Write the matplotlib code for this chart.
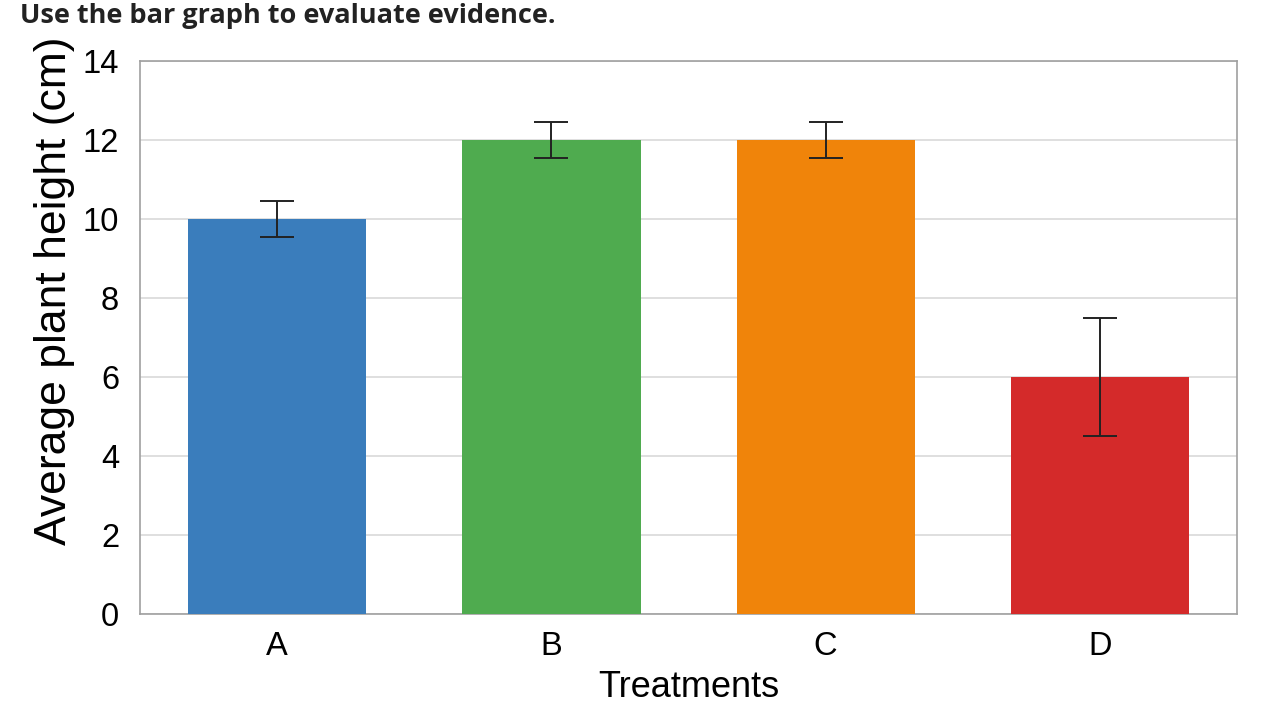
import matplotlib.pyplot as plt

treatments = ["A", "B", "C", "D"]
heights = [10, 12, 12, 6]
errors = [0.45, 0.45, 0.45, 1.5]
bar_colors = ["#3a7dbc", "#4fab4f", "#f0840a", "#d42a2a"]

fig = plt.figure(figsize=(12.72, 7.2), dpi=100)
ax = fig.add_axes([0.1101, 0.1472, 0.8624, 0.7681])

ax.bar(range(len(treatments)), heights, width=0.65, color=bar_colors,
       yerr=errors, capsize=12, zorder=3,
       error_kw={"ecolor": "#222222", "elinewidth": 1.4, "capthick": 1.4})

ax.set_xlim(-0.5, 3.5)
ax.set_ylim(0, 14)
ax.set_yticks(range(0, 15, 2))
ax.set_xticks(range(len(treatments)))
ax.set_xticklabels(treatments)
ax.tick_params(length=0, labelsize=23.5)
ax.tick_params(axis="x", pad=12)
ax.tick_params(axis="y", pad=15)
for lab in ax.get_xticklabels() + ax.get_yticklabels():
    lab.set_family("Liberation Sans")

ax.yaxis.grid(True, color="#d9d9d9", linewidth=1.2, zorder=0)
for s in ax.spines.values():
    s.set_color("#a0a0a0")
    s.set_linewidth(1.2)

ax.set_xlabel("Treatments", fontsize=26, family="Liberation Sans", labelpad=6)
ax.set_ylabel("Average plant height (cm)", fontsize=32, family="Liberation Sans")
ax.yaxis.set_label_coords(-0.059, 0.584)

fig.text(0.016, 0.978, "Use the bar graph to evaluate evidence.", fontsize=19.5,
         fontweight="bold", family="Open Sans", color="#222222", va="center")

fig.savefig("out.png", dpi=100)
